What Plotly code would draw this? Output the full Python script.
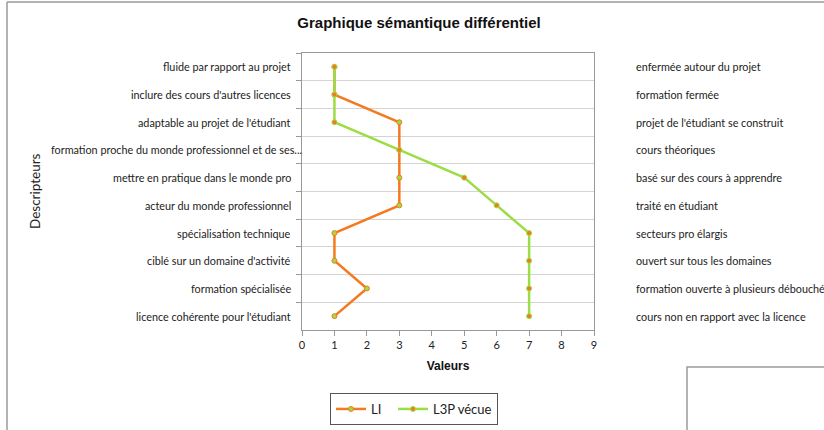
import plotly.graph_objects as go

categories = [
    "fluide par rapport au projet",
    "inclure des cours d'autres licences",
    "adaptable au projet de l'étudiant",
    "formation proche du monde professionnel et de ses...",
    "mettre en pratique dans le monde pro",
    "acteur du monde professionnel",
    "spécialisation technique",
    "ciblé sur un domaine d'activité",
    "formation spécialisée",
    "licence cohérente pour l'étudiant",
]
opposites = [
    "enfermée autour du projet",
    "formation fermée",
    "projet de l'étudiant se construit",
    "cours théoriques",
    "basé sur des cours à apprendre",
    "traité en étudiant",
    "secteurs pro élargis",
    "ouvert sur tous les domaines",
    "formation ouverte à plusieurs débouchés",
    "cours non en rapport avec la licence",
]
li_values = [1, 1, 3, 3, 3, 3, 1, 1, 2, 1]
l3p_values = [1, 1, 1, 3, 5, 6, 7, 7, 7, 7]
x_ticks = [0, 1, 2, 3, 4, 5, 6, 7, 8, 9]
series_names = ["LI", "L3P vécue"]

ORANGE = "#F47A20"
GREEN = "#9BDD45"
FONT = "Lato"

W, H = 824, 430
L, R, T, B = 302, 594, 53, 330


def px(x):
    return (x - L) / (R - L)


def py(y):
    return (B - y) / (B - T)


fig = go.Figure()
fig.add_trace(go.Scatter(
    x=li_values, y=categories, name=series_names[0] + "\u00a0\u00a0", mode="lines+markers",
    line=dict(color=ORANGE, width=2.5),
    marker=dict(color=GREEN, size=5, line=dict(color=ORANGE, width=1)),
))
fig.add_trace(go.Scatter(
    x=l3p_values, y=categories, name=series_names[1], mode="lines+markers",
    line=dict(color=GREEN, width=2.5),
    marker=dict(color=ORANGE, size=5, line=dict(color=GREEN, width=1)),
))

annotations = []
for cat, opp in zip(categories, opposites):
    # left descriptor (Excel lets truncated labels run up to the axis)
    annotations.append(dict(
        x=px(304 if cat.endswith("...") else 293), xref="paper", y=cat, yref="y", text=cat,
        showarrow=False, xanchor="right", yanchor="middle",
        font=dict(family=FONT, size=10.8, color="#222"),
    ))
    annotations.append(dict(
        x=px(634), xref="paper", y=cat, yref="y", text=opp, showarrow=False,
        xanchor="left", yanchor="middle", font=dict(family=FONT, size=10.8, color="#222"),
    ))
annotations.append(dict(
    x=px(35), xref="paper", y=py(191), yref="paper", text="Descripteurs",
    showarrow=False, textangle=-90, xanchor="center", yanchor="middle",
    font=dict(family=FONT, size=13.5, color="#222"),
))

shapes = [
    dict(type="line", xref="paper", yref="paper", x0=px(7), x1=px(830), y0=py(2), y1=py(2),
         line=dict(color="#9a9a9a", width=1.5)),
    dict(type="line", xref="paper", yref="paper", x0=px(7), x1=px(7), y0=py(2), y1=py(440),
         line=dict(color="#9a9a9a", width=1.5)),
    dict(type="rect", xref="paper", yref="paper", x0=px(687), x1=px(840), y0=py(367), y1=py(440),
         line=dict(color="#9a9a9a", width=1.5)),
]

fig.update_layout(
    width=W, height=H,
    margin=dict(l=L, r=W - R, t=T, b=H - B, autoexpand=False),
    paper_bgcolor="white", plot_bgcolor="white",
    title=dict(text="<b>Graphique sémantique différentiel</b>", x=419 / W, xref="container",
               xanchor="center", y=1 - 23 / H, yanchor="middle", yref="container",
               font=dict(family="Liberation Sans", size=15, color="#111")),
    xaxis=dict(range=[0, 9], tickvals=x_ticks, ticks="outside", ticklen=5, tickcolor="#999",
               showgrid=False, zeroline=False, showline=True, linecolor="#999", mirror=True,
               automargin=False,
               tickfont=dict(family=FONT, size=11, color="#222"),
               title=dict(text="<b>Valeurs</b>", standoff=11,
                          font=dict(family="Liberation Sans", size=12, color="#111"))),
    yaxis=dict(type="category", categoryorder="array", categoryarray=categories,
               range=[len(categories) - 0.5, -0.5], tickson="boundaries", ticks="outside",
               ticklen=5, showticklabels=False, automargin=False,
               tickcolor="#999", showgrid=True, gridcolor="#d4d4d4", showline=True,
               linecolor="#999", mirror=True),
    legend=dict(orientation="h", x=px(330), xanchor="left", y=py(393), yanchor="top",
                bordercolor="#555", borderwidth=1, bgcolor="white",
                font=dict(family=FONT, size=13, color="#222")),
    annotations=annotations,
    shapes=shapes,
    showlegend=True,
)

fig.write_html("out.html")
